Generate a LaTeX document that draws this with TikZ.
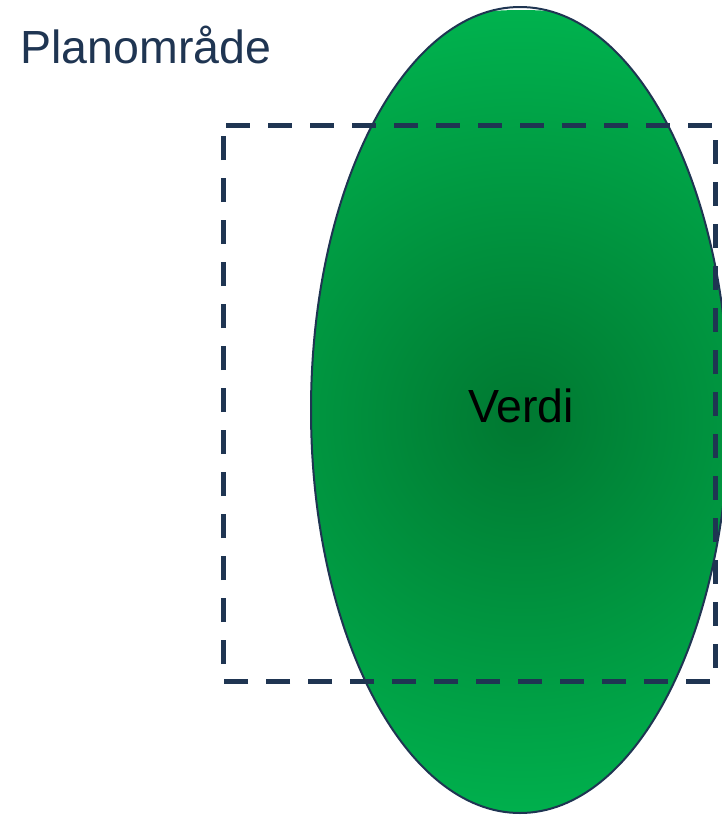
\documentclass[tikz,border=0pt]{standalone}
\usepackage{fontspec}
\setmainfont{Liberation Sans}
\usetikzlibrary{shapes.geometric}

\definecolor{navy}{HTML}{1F3552}
\definecolor{verdiedge}{HTML}{00B24E}
\definecolor{verdimid}{HTML}{007A32}
\pgfdeclareradialshading{greenfade}{\pgfpoint{0bp}{0bp}}{color(0bp)=(verdimid); color(1bp)=(verdimid); color(25bp)=(verdiedge); color(72bp)=(verdiedge)}

\begin{document}
\begin{tikzpicture}[x=1pt, y=-1pt,
		area/.style={ellipse, draw=navy, line width=2pt, inner sep=0pt,
			minimum width=418pt, minimum height=806pt},
		label/.style={text=navy, anchor=base, font=\fontsize{46.5}{50}\selectfont},
		zone/.style={draw=navy, line width=5pt, dash pattern=on 24pt off 18pt, dash phase=39pt}]
		\useasboundingbox (0,0) rectangle (722,815);
		\clip (0,0) rectangle (722,815);
		% Shading
		\begin{scope}
			\clip (520,410) ellipse [x radius=209, y radius=403];
			\shade [shading=greenfade] (521,420) circle [radius=410];
		\end{scope}
		% Nodes
		\node [area] (verdi) at (520,410) {};
		\node [anchor=base, font=\fontsize{46.5}{50}\selectfont] (verditext) at (521,422) {Verdi};
		\node [label] (plan) at (146,63) {Planområde};

		% Paths
		\draw [zone] (223,125) -- (715,125) -- (715,681) -- (223,681) -- cycle;
	\end{tikzpicture}
\end{document}
